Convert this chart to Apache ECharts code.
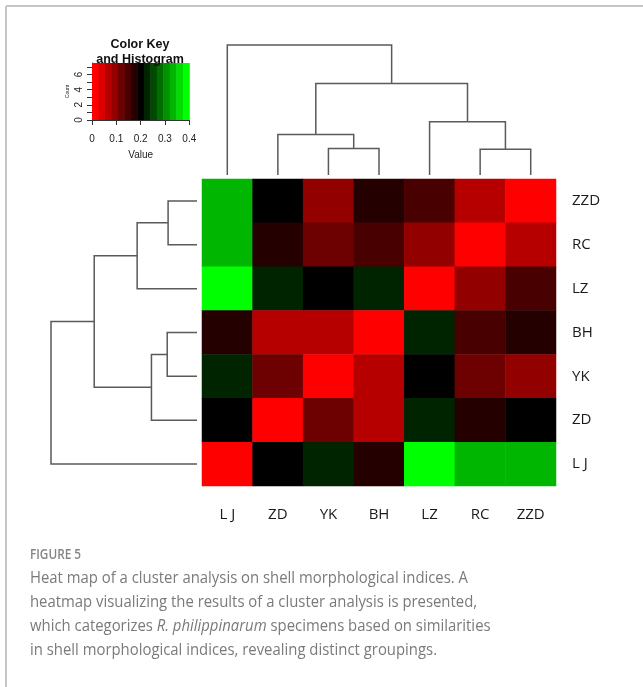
<!DOCTYPE html>
<html><head><meta charset="utf-8">
<script src="https://cdn.jsdelivr.net/npm/echarts@6/dist/echarts.min.js"></script>
<style>html,body{margin:0;padding:0;background:#fff}#c{width:643px;height:687px}</style>
</head><body><div id="c"></div>
<script>
// ---- data ----
const rowLabels = ['ZZD', 'RC', 'LZ', 'BH', 'YK', 'ZD', 'L J'];
const colLabels = ['L J', 'ZD', 'YK', 'BH', 'LZ', 'RC', 'ZZD'];
// values per row, columns in colLabels order
const rowZZD = [0.333, 0.200, 0.093, 0.173, 0.147, 0.067, 0.000];
const rowRC  = [0.333, 0.173, 0.120, 0.147, 0.093, 0.000, 0.067];
const rowLZ  = [0.400, 0.227, 0.200, 0.227, 0.000, 0.093, 0.147];
const rowBH  = [0.173, 0.067, 0.067, 0.000, 0.227, 0.147, 0.173];
const rowYK  = [0.227, 0.120, 0.000, 0.067, 0.200, 0.120, 0.093];
const rowZD  = [0.200, 0.000, 0.120, 0.067, 0.227, 0.173, 0.200];
const rowLJ  = [0.000, 0.200, 0.227, 0.173, 0.400, 0.333, 0.333];
const matrix = [rowZZD, rowRC, rowLZ, rowBH, rowYK, rowZD, rowLJ];
// cluster tree (shared by rows and columns): pairs of leaves or earlier merge indices
const treeMerges  = [['RC', 'ZZD'], ['YK', 'BH'], ['ZD', 1], ['LZ', 0], [2, 3], ['L J', 4]];
const treeHeights = [0.198, 0.204, 0.312, 0.410, 0.704, 1.000];
// colour key
const keyColors = ['#FF0000','#DB0000','#B60000','#920000','#6D0000','#490000','#240000','#000000',
                   '#002400','#004900','#006D00','#009200','#00B600','#00DB00','#00FF00'];
const keyMin = 0, keyMax = 0.4;
const keyXTicks = [0, 0.1, 0.2, 0.3, 0.4];
const keyYTicks = [0, 1, 2, 3, 4, 5, 6, 7];
const keyYLabels = [0, 2, 4, 6];
const keyCountMax = 7.5;
const captionTitle = 'FIGURE 5';
const captionLines = [
  'Heat map of a cluster analysis on shell morphological indices. A',
  'heatmap visualizing the results of a cluster analysis is presented,',
  'which categorizes {i|R. philippinarum} specimens based on similarities',
  'in shell morphological indices, revealing distinct groupings.'
];

// ---- build ----
const heatData = [];
matrix.forEach((row, r) => row.forEach((v, c) => heatData.push([c, r, v])));

const step = (keyMax - keyMin) / keyColors.length;
const pieces = keyColors.map((col, i) => {
  const p = { gte: keyMin + i * step, color: col };
  if (i < keyColors.length - 1) p.lt = keyMin + (i + 1) * step; else p.lte = keyMax;
  return p;
});
const keyBands = keyColors.map((col, i) => [keyMin + i * step, keyMin + (i + 1) * step, i]);

function dendroSegments(order) {
  const pos = {}; order.forEach((k, i) => pos[k] = i);
  const nodePos = [];
  return treeMerges.map((m, i) => {
    const p = m.map(c => typeof c === 'number' ? nodePos[c] : pos[c]);
    const hh = m.map(c => typeof c === 'number' ? treeHeights[c] : 0);
    nodePos[i] = (p[0] + p[1]) / 2;
    return [p[0], p[1], hh[0], hh[1], treeHeights[i]];
  });
}
const colSegs = dendroSegments(colLabels);
const rowSegs = dendroSegments(rowLabels);
const lineStyle = { stroke: '#5a5a5a', lineWidth: 1.5, fill: null };

// caption measurement for horizontal fit
const ctx = document.createElement('canvas').getContext('2d');
function measure(font, txt) { ctx.font = font; return ctx.measureText(txt).width; }
const capSize = 16, capFam = '"Open Sans"';
const w1 = measure(capSize + 'px ' + capFam, captionLines[0]);
const capScale = 438 / w1;
const figW = measure('600 14px ' + capFam, captionTitle);
const figScale = 51 / figW;

const capGraphics = captionLines.map((t, i) => ({
  type: 'text', x: 30, y: 578 + i * 24, scaleX: capScale,
  style: {
    text: t, fill: '#7a7a7a', fontSize: capSize, fontFamily: 'Open Sans',
    align: 'left', verticalAlign: 'middle',
    rich: { i: { fontStyle: 'italic', fontSize: capSize, fontFamily: 'Open Sans', fill: '#7a7a7a' } }
  }
}));

const chart = echarts.init(document.getElementById('c'), null, { renderer: 'canvas' });
chart.setOption({
  animation: false,
  backgroundColor: '#fff',
  grid: [
    { left: 202, top: 179, width: 354, height: 307 },      // heatmap
    { left: 202, top: 45, width: 354, height: 130 },       // column dendrogram
    { left: 51, top: 179, width: 146, height: 307 },       // row dendrogram
    { left: 92, top: 63, width: 97.3, height: 57 }         // colour key
  ],
  xAxis: [
    { type: 'category', gridIndex: 0, data: colLabels, position: 'bottom',
      axisLine: { show: false }, axisTick: { show: false },
      axisLabel: { margin: 21, fontSize: 15, fontFamily: 'Open Sans', color: '#1a1a1a' } },
    { type: 'value', gridIndex: 1, min: -0.5, max: 6.5, show: false },
    { type: 'value', gridIndex: 2, min: 0, max: 1, inverse: true, show: false },
    { type: 'value', gridIndex: 3, min: keyMin, max: keyMax, interval: 0.1,
      splitLine: { show: false },
      axisLine: { show: true, onZero: false, lineStyle: { color: '#333', width: 1 } },
      axisTick: { show: true, length: 5, lineStyle: { color: '#333' }, customValues: keyXTicks },
      axisLabel: { margin: 14, fontSize: 10, fontFamily: 'Liberation Sans', color: '#222',
                   customValues: keyXTicks, showMinLabel: true, showMaxLabel: true },
      name: 'Value', nameLocation: 'middle', nameGap: 30,
      nameTextStyle: { fontSize: 10, fontFamily: 'Liberation Sans', color: '#222' } }
  ],
  yAxis: [
    { type: 'category', gridIndex: 0, data: rowLabels, inverse: true, position: 'right',
      axisLine: { show: false }, axisTick: { show: false },
      axisLabel: { margin: 16, fontSize: 15, fontFamily: 'Open Sans', color: '#1a1a1a' } },
    { type: 'value', gridIndex: 1, min: 0, max: 1, show: false },
    { type: 'value', gridIndex: 2, min: -0.5, max: 6.5, inverse: true, show: false },
    { type: 'value', gridIndex: 3, min: 0, max: keyCountMax,
      splitLine: { show: false },
      axisLine: { show: true, onZero: false, lineStyle: { color: '#333', width: 1 } },
      axisTick: { show: true, length: 5, lineStyle: { color: '#333' }, customValues: keyYTicks },
      axisLabel: { margin: 8, rotate: 90, fontSize: 10, fontFamily: 'Liberation Sans', color: '#222',
                   customValues: keyYLabels },
      name: 'Count', nameLocation: 'middle', nameGap: 22, nameRotate: 90,
      nameTextStyle: { fontSize: 5, fontFamily: 'Liberation Sans', color: '#222' } }
  ],
  visualMap: {
    type: 'piecewise', show: false, dimension: 2, seriesIndex: 0, pieces: pieces
  },
  series: [
    { type: 'heatmap', xAxisIndex: 0, yAxisIndex: 0, data: heatData,
      itemStyle: { borderWidth: 0 }, emphasis: { disabled: true } },
    { type: 'custom', xAxisIndex: 1, yAxisIndex: 1, data: colSegs, silent: true,
      encode: { x: [0, 1], y: [2, 3, 4] },
      renderItem: (p, api) => {
        const a = api.value(0), b = api.value(1), ha = api.value(2), hb = api.value(3), h = api.value(4);
        return { type: 'polyline', shape: { points: [api.coord([a, ha]), api.coord([a, h]), api.coord([b, h]), api.coord([b, hb])] }, style: lineStyle };
      } },
    { type: 'custom', xAxisIndex: 2, yAxisIndex: 2, data: rowSegs, silent: true,
      encode: { y: [0, 1], x: [2, 3, 4] },
      renderItem: (p, api) => {
        const a = api.value(0), b = api.value(1), ha = api.value(2), hb = api.value(3), h = api.value(4);
        return { type: 'polyline', shape: { points: [api.coord([ha, a]), api.coord([h, a]), api.coord([h, b]), api.coord([hb, b])] }, style: lineStyle };
      } },
    { type: 'custom', xAxisIndex: 3, yAxisIndex: 3, data: keyBands, silent: true,
      encode: { x: [0, 1] },
      renderItem: (p, api) => {
        const lo = api.value(0), hi = api.value(1), idx = api.value(2);
        const p0 = api.coord([lo, 0]), p1 = api.coord([hi, keyCountMax]);
        return { type: 'rect', shape: { x: p0[0], y: p1[1], width: p1[0] - p0[0] + 0.5, height: p0[1] - p1[1] },
                 style: { fill: keyColors[idx] } };
      } }
  ],
  graphic: [
    { type: 'line', shape: { x1: 6, y1: 6, x2: 643, y2: 6 }, style: { stroke: '#c6c6c6', lineWidth: 2 } },
    { type: 'line', shape: { x1: 6, y1: 6, x2: 6, y2: 687 }, style: { stroke: '#c6c6c6', lineWidth: 2 } },
    { type: 'text', x: 140, y: 45, z: 10,
      style: { text: 'Color Key', fontSize: 12.5, fontWeight: 'bold', fontFamily: 'Liberation Sans', fill: '#111', align: 'center', verticalAlign: 'middle' } },
    { type: 'text', x: 140, y: 60, z: 10,
      style: { text: 'and Histogram', fontSize: 12.5, fontWeight: 'bold', fontFamily: 'Liberation Sans', fill: '#111', align: 'center', verticalAlign: 'middle' } },
    { type: 'text', x: 30, y: 555, scaleX: figScale,
      style: { text: captionTitle, fontSize: 14, fontWeight: 600, fontFamily: 'Open Sans', fill: '#858585', align: 'left', verticalAlign: 'middle' } }
  ].concat(capGraphics)
});
</script></body></html>
